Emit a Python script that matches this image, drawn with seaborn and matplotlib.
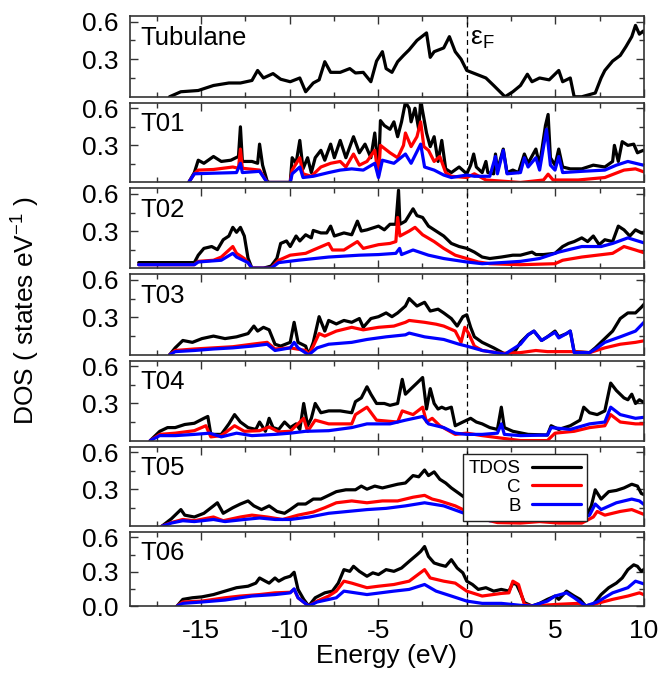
import matplotlib
matplotlib.use("Agg")
import matplotlib.pyplot as plt
import pandas as pd
import seaborn as sns
from matplotlib.ticker import MultipleLocator, FixedLocator

sns.set_style("ticks")
plt.rcParams["font.family"] = ["Liberation Sans", "DejaVu Sans"]
plt.rcParams["axes.unicode_minus"] = False
plt.rcParams["mathtext.fontset"] = "custom"
plt.rcParams["mathtext.rm"] = "Liberation Sans"
plt.rcParams["text.color"] = "black"
plt.rcParams["axes.labelcolor"] = "black"
plt.rcParams["xtick.color"] = "black"
plt.rcParams["ytick.color"] = "black"

# ---- density of states, (energy in eV, states/eV) ----
tubulane_tdos = [(-16.77, 0.0), (-16.13, 0.04), (-15.15, 0.05), (-14.29, 0.09), (-13.42, 0.11),
                 (-12.77, 0.11), (-12.12, 0.13), (-11.80, 0.21), (-11.47, 0.15), (-10.93, 0.185),
                 (-10.50, 0.14), (-9.96, 0.12), (-9.42, 0.15), (-9.09, 0.04), (-8.66, 0.11),
                 (-8.33, 0.135), (-8.01, 0.28), (-7.68, 0.195), (-7.14, 0.195), (-6.60, 0.225),
                 (-6.28, 0.19), (-5.84, 0.195), (-5.41, 0.12), (-5.09, 0.285), (-4.76, 0.36),
                 (-4.55, 0.225), (-4.22, 0.195), (-3.90, 0.28), (-3.57, 0.33), (-3.25, 0.375),
                 (-2.81, 0.45), (-2.27, 0.51), (-2.06, 0.315), (-1.84, 0.36), (-1.30, 0.39),
                 (-0.98, 0.48), (-0.65, 0.36), (-0.32, 0.30), (0.0, 0.21), (0.54, 0.18),
                 (1.08, 0.15), (1.52, 0.09), (2.16, 0.0), (2.60, 0.04), (3.03, 0.09),
                 (3.42, 0.18), (3.68, 0.12), (4.11, 0.15), (4.65, 0.135), (5.19, 0.21),
                 (5.41, 0.12), (5.84, 0.15), (6.06, 0.0), (6.49, 0.0), (7.25, 0.03),
                 (7.58, 0.15), (7.79, 0.21), (8.23, 0.285), (8.66, 0.33), (8.98, 0.40),
                 (9.31, 0.48), (9.52, 0.57), (9.74, 0.50), (9.96, 0.525), (10.1, 0.48)]

t01_tdos = [(-15.69, 0.0), (-15.37, 0.08), (-15.15, 0.18), (-14.83, 0.155), (-14.29, 0.21),
            (-13.85, 0.17), (-13.31, 0.18), (-12.88, 0.21), (-12.77, 0.45), (-12.66, 0.17),
            (-12.12, 0.17), (-11.80, 0.155), (-11.69, 0.31), (-11.52, 0.14), (-11.26, 0.01),
            (-11.15, 0.0), (-9.96, 0.0), (-9.85, 0.20), (-9.63, 0.155), (-9.42, 0.34),
            (-9.24, 0.11), (-8.98, 0.20), (-8.77, 0.08), (-8.55, 0.20), (-8.23, 0.26),
            (-8.01, 0.18), (-7.68, 0.31), (-7.47, 0.20), (-7.14, 0.34), (-6.82, 0.20),
            (-6.39, 0.37), (-6.06, 0.24), (-5.74, 0.31), (-5.41, 0.20), (-5.19, 0.40),
            (-4.98, 0.08), (-4.87, 0.50), (-4.65, 0.46), (-4.33, 0.43), (-4.11, 0.49),
            (-3.90, 0.37), (-3.68, 0.49), (-3.46, 0.65), (-3.25, 0.60), (-3.14, 0.49),
            (-2.92, 0.60), (-2.71, 0.43), (-2.60, 0.66), (-2.42, 0.52), (-2.27, 0.40),
            (-2.06, 0.29), (-1.84, 0.37), (-1.62, 0.17), (-1.41, 0.34), (-1.19, 0.11),
            (-0.87, 0.08), (-0.43, 0.125), (0.0, 0.07), (0.22, 0.14), (0.39, 0.23),
            (0.54, 0.125), (0.87, 0.08), (1.08, 0.17), (1.19, 0.08), (1.52, 0.07),
            (1.62, 0.23), (1.73, 0.10), (2.06, 0.27), (2.27, 0.08), (2.60, 0.10),
            (2.92, 0.08), (3.25, 0.23), (3.46, 0.155), (3.90, 0.27), (4.11, 0.14),
            (4.44, 0.46), (4.59, 0.55), (4.72, 0.20), (4.98, 0.14), (5.19, 0.27),
            (5.41, 0.125), (5.84, 0.11), (6.49, 0.11), (7.14, 0.14), (7.79, 0.125),
            (8.23, 0.17), (8.33, 0.30), (8.55, 0.17), (8.77, 0.33), (9.09, 0.30),
            (9.42, 0.31), (9.63, 0.24), (9.96, 0.26), (10.1, 0.25)]
t01_c = [(-15.69, 0.0), (-15.37, 0.07), (-15.15, 0.10), (-14.29, 0.105), (-13.20, 0.125),
         (-12.88, 0.115), (-12.77, 0.27), (-12.66, 0.115), (-11.69, 0.10), (-11.26, 0.0),
         (-9.96, 0.0), (-9.85, 0.10), (-9.42, 0.20), (-9.24, 0.07), (-8.77, 0.05),
         (-8.23, 0.125), (-7.68, 0.155), (-7.14, 0.17), (-6.82, 0.125), (-6.39, 0.23),
         (-6.06, 0.14), (-5.63, 0.17), (-5.19, 0.26), (-4.98, 0.05), (-4.87, 0.30),
         (-4.33, 0.24), (-3.90, 0.20), (-3.57, 0.30), (-3.46, 0.40), (-3.14, 0.29),
         (-2.81, 0.37), (-2.60, 0.49), (-2.42, 0.29), (-2.16, 0.26), (-1.84, 0.17),
         (-1.52, 0.21), (-1.19, 0.08), (-0.87, 0.05), (0.0, 0.04), (0.43, 0.07),
         (1.08, 0.02), (3.03, 0.0), (4.33, 0.02), (4.59, 0.067), (4.87, 0.02),
         (6.28, 0.02), (7.79, 0.04), (8.87, 0.10), (9.52, 0.11), (10.1, 0.08)]
t01_b = [(-15.69, 0.0), (-15.37, 0.07), (-14.29, 0.075), (-12.99, 0.08), (-12.77, 0.155),
         (-12.66, 0.08), (-11.69, 0.09), (-11.26, 0.0), (-9.96, 0.0), (-9.85, 0.07),
         (-9.42, 0.125), (-9.24, 0.04), (-8.66, 0.05), (-7.79, 0.08), (-7.14, 0.10),
         (-6.49, 0.11), (-5.84, 0.10), (-5.19, 0.155), (-4.98, 0.04), (-4.76, 0.18),
         (-4.11, 0.155), (-3.46, 0.23), (-3.14, 0.155), (-2.60, 0.31), (-2.38, 0.125),
         (-1.84, 0.10), (-1.30, 0.06), (-0.87, 0.04), (0.0, 0.06), (0.43, 0.05),
         (1.30, 0.05), (1.62, 0.21), (1.73, 0.07), (2.06, 0.26), (2.27, 0.07),
         (3.03, 0.08), (3.25, 0.20), (3.46, 0.125), (3.90, 0.20), (4.11, 0.10),
         (4.50, 0.43), (4.72, 0.14), (4.98, 0.10), (5.19, 0.21), (5.41, 0.08),
         (6.49, 0.09), (7.79, 0.10), (8.44, 0.14), (9.09, 0.17), (9.96, 0.14), (10.1, 0.14)]

t02_tdos = [(-18.51, 0.045), (-15.37, 0.045), (-15.15, 0.105), (-14.83, 0.16), (-14.39, 0.175),
            (-14.07, 0.15), (-13.74, 0.23), (-13.42, 0.26), (-13.20, 0.33), (-12.99, 0.29),
            (-12.77, 0.33), (-12.55, 0.26), (-12.34, 0.08), (-12.12, 0.0), (-11.47, 0.0),
            (-11.04, 0.017), (-10.71, 0.08), (-10.50, 0.20), (-10.17, 0.22), (-9.96, 0.175),
            (-9.63, 0.26), (-9.42, 0.22), (-9.09, 0.27), (-8.77, 0.245), (-8.66, 0.305),
            (-8.23, 0.285), (-7.90, 0.285), (-7.68, 0.34), (-7.47, 0.26), (-6.93, 0.285),
            (-6.49, 0.27), (-6.17, 0.38), (-5.95, 0.30), (-5.63, 0.31), (-4.98, 0.34),
            (-4.65, 0.31), (-4.33, 0.355), (-4.00, 0.355), (-3.85, 0.63), (-3.77, 0.355),
            (-3.46, 0.38), (-3.03, 0.48), (-2.81, 0.425), (-2.49, 0.41), (-2.16, 0.34),
            (-1.73, 0.30), (-1.30, 0.26), (-0.87, 0.20), (-0.43, 0.175), (0.0, 0.16),
            (0.43, 0.13), (0.87, 0.09), (1.30, 0.078), (1.95, 0.09), (2.60, 0.105),
            (3.03, 0.105), (3.68, 0.13), (3.90, 0.11), (4.33, 0.11), (4.98, 0.12),
            (5.41, 0.175), (5.74, 0.20), (6.06, 0.215), (6.49, 0.245), (6.82, 0.215),
            (7.14, 0.26), (7.47, 0.19), (7.79, 0.23), (8.23, 0.215), (8.55, 0.34),
            (8.87, 0.31), (9.20, 0.26), (9.52, 0.31), (9.85, 0.285), (10.1, 0.28)]
t02_c = [(-18.51, 0.028), (-15.37, 0.028), (-15.15, 0.055), (-14.29, 0.064), (-13.85, 0.09),
         (-13.20, 0.175), (-12.99, 0.12), (-12.55, 0.078), (-12.34, 0.045), (-12.12, 0.0),
         (-11.04, 0.0), (-10.61, 0.064), (-9.96, 0.105), (-9.09, 0.12), (-8.66, 0.147),
         (-7.79, 0.20), (-7.58, 0.147), (-6.93, 0.147), (-6.17, 0.215), (-5.84, 0.16),
         (-4.98, 0.19), (-4.33, 0.20), (-4.00, 0.215), (-3.90, 0.41), (-3.77, 0.26),
         (-3.25, 0.30), (-2.92, 0.33), (-2.49, 0.27), (-1.84, 0.215), (-1.30, 0.16),
         (-0.65, 0.105), (0.0, 0.078), (0.65, 0.05), (1.30, 0.036), (3.03, 0.028),
         (4.98, 0.036), (5.41, 0.064), (6.49, 0.09), (7.36, 0.105), (8.23, 0.12),
         (8.87, 0.175), (9.52, 0.147), (10.1, 0.12)]
t02_b = [(-18.51, 0.028), (-15.37, 0.028), (-15.15, 0.05), (-13.85, 0.064), (-13.20, 0.12),
         (-12.99, 0.09), (-12.34, 0.045), (-12.12, 0.0), (-11.04, 0.0), (-10.61, 0.045),
         (-9.52, 0.064), (-7.79, 0.09), (-6.06, 0.105), (-4.98, 0.11), (-4.00, 0.12),
         (-3.79, 0.16), (-3.68, 0.11), (-3.03, 0.147), (-2.16, 0.105), (-1.30, 0.078),
         (0.0, 0.05), (0.87, 0.036), (1.95, 0.045), (3.03, 0.055), (4.11, 0.078),
         (5.19, 0.13), (6.49, 0.175), (7.58, 0.175), (8.23, 0.20), (9.09, 0.245), (10.1, 0.20)]

t03_tdos = [(-16.77, 0.0), (-16.45, 0.056), (-16.02, 0.115), (-15.48, 0.10), (-14.94, 0.13),
            (-14.29, 0.15), (-13.64, 0.13), (-12.99, 0.144), (-12.34, 0.17), (-12.01, 0.23),
            (-11.80, 0.19), (-11.47, 0.22), (-11.15, 0.20), (-10.82, 0.085), (-10.50, 0.07),
            (-9.96, 0.10), (-9.74, 0.26), (-9.52, 0.10), (-9.09, 0.07), (-8.92, 0.0),
            (-8.66, 0.10), (-8.33, 0.305), (-8.01, 0.19), (-7.79, 0.275), (-7.36, 0.247),
            (-6.93, 0.275), (-6.49, 0.26), (-6.06, 0.29), (-5.84, 0.22), (-5.41, 0.29),
            (-4.98, 0.305), (-4.55, 0.335), (-4.22, 0.305), (-3.90, 0.335), (-3.46, 0.39),
            (-3.25, 0.45), (-2.81, 0.39), (-2.38, 0.42), (-2.06, 0.35), (-1.62, 0.365),
            (-1.30, 0.335), (-0.87, 0.29), (-0.54, 0.23), (-0.22, 0.305), (0.0, 0.32),
            (0.22, 0.22), (0.43, 0.144), (0.87, 0.10), (1.52, 0.056), (2.16, 0.006),
            (2.71, 0.026), (3.03, 0.10), (3.46, 0.16), (3.79, 0.19), (4.22, 0.115),
            (4.55, 0.144), (4.98, 0.19), (5.19, 0.144), (5.63, 0.17), (5.84, 0.19),
            (6.06, 0.026), (6.93, 0.018), (7.25, 0.056), (7.79, 0.13), (8.23, 0.19),
            (8.66, 0.29), (9.09, 0.335), (9.52, 0.335), (9.85, 0.38), (10.1, 0.42)]
t03_c = [(-16.77, 0.0), (-16.45, 0.035), (-15.37, 0.047), (-14.29, 0.056), (-13.20, 0.065),
         (-12.12, 0.085), (-11.26, 0.10), (-10.82, 0.047), (-9.96, 0.056), (-9.09, 0.035),
         (-8.92, 0.0), (-8.66, 0.07), (-8.33, 0.17), (-8.01, 0.15), (-7.36, 0.19),
         (-6.49, 0.22), (-5.84, 0.20), (-4.98, 0.22), (-4.11, 0.23), (-3.46, 0.26),
         (-3.25, 0.275), (-2.38, 0.26), (-1.73, 0.245), (-1.30, 0.23), (-0.65, 0.19),
         (-0.32, 0.10), (-0.11, 0.22), (0.11, 0.17), (0.43, 0.07), (0.87, 0.035),
         (1.95, 0.012), (3.03, 0.018), (3.90, 0.035), (4.55, 0.026), (5.84, 0.026),
         (6.93, 0.018), (7.79, 0.056), (8.66, 0.085), (9.52, 0.10), (10.1, 0.115)]
t03_b = [(-16.77, 0.0), (-16.45, 0.026), (-15.37, 0.035), (-14.29, 0.047), (-13.20, 0.056),
         (-12.12, 0.07), (-11.26, 0.085), (-10.82, 0.035), (-9.96, 0.056), (-9.74, 0.10),
         (-9.52, 0.056), (-8.92, 0.0), (-8.44, 0.056), (-7.79, 0.085), (-6.49, 0.10),
         (-5.63, 0.123), (-4.55, 0.144), (-3.46, 0.16), (-3.25, 0.174), (-2.38, 0.144),
         (-1.30, 0.123), (-0.43, 0.085), (0.0, 0.07), (0.87, 0.035), (2.16, 0.006),
         (3.03, 0.085), (3.46, 0.16), (3.79, 0.19), (4.22, 0.115), (4.55, 0.144),
         (4.98, 0.18), (5.19, 0.135), (5.63, 0.17), (5.84, 0.19), (6.06, 0.018),
         (6.93, 0.018), (7.36, 0.056), (7.79, 0.10), (8.66, 0.144), (9.52, 0.19), (10.1, 0.275)]

t04_tdos = [(-17.86, 0.0), (-17.32, 0.075), (-16.88, 0.105), (-16.45, 0.105), (-15.91, 0.13),
            (-15.37, 0.14), (-14.83, 0.18), (-14.61, 0.195), (-14.44, 0.05), (-13.85, 0.05),
            (-13.42, 0.135), (-13.10, 0.21), (-12.77, 0.15), (-12.34, 0.105), (-11.90, 0.09),
            (-11.69, 0.15), (-11.36, 0.075), (-11.15, 0.18), (-10.93, 0.105), (-10.61, 0.09),
            (-10.28, 0.15), (-9.96, 0.105), (-9.63, 0.135), (-9.42, 0.09), (-9.20, 0.30),
            (-8.98, 0.12), (-8.77, 0.18), (-8.55, 0.30), (-8.23, 0.225), (-7.79, 0.24),
            (-7.14, 0.24), (-6.49, 0.225), (-6.28, 0.315), (-5.95, 0.345), (-5.63, 0.435),
            (-5.41, 0.375), (-5.09, 0.30), (-4.65, 0.30), (-4.33, 0.285), (-3.90, 0.30),
            (-3.64, 0.495), (-3.46, 0.375), (-3.14, 0.42), (-2.81, 0.465), (-2.49, 0.51),
            (-2.27, 0.255), (-2.06, 0.42), (-1.84, 0.30), (-1.62, 0.255), (-1.41, 0.27),
            (-1.19, 0.255), (-0.87, 0.27), (-0.65, 0.12), (-0.22, 0.15), (0.22, 0.18),
            (0.54, 0.15), (0.87, 0.135), (1.30, 0.105), (1.73, 0.09), (1.95, 0.27),
            (2.12, 0.105), (2.60, 0.075), (3.46, 0.05), (4.55, 0.045), (4.76, 0.12),
            (5.19, 0.09), (5.84, 0.12), (6.39, 0.165), (6.60, 0.27), (6.93, 0.225),
            (7.36, 0.21), (7.79, 0.24), (8.12, 0.465), (8.44, 0.405), (8.87, 0.345),
            (9.09, 0.33), (9.31, 0.375), (9.52, 0.30), (9.74, 0.33), (10.1, 0.30)]
t04_c = [(-17.86, 0.0), (-17.32, 0.05), (-16.45, 0.06), (-15.37, 0.08), (-14.72, 0.12),
         (-14.44, 0.03), (-13.85, 0.04), (-13.10, 0.12), (-12.55, 0.075), (-11.69, 0.08),
         (-11.15, 0.11), (-10.61, 0.07), (-9.96, 0.075), (-9.20, 0.18), (-8.98, 0.075),
         (-8.55, 0.165), (-7.79, 0.135), (-6.49, 0.135), (-6.28, 0.21), (-5.63, 0.27),
         (-5.09, 0.165), (-3.90, 0.15), (-3.64, 0.24), (-3.03, 0.21), (-2.49, 0.27),
         (-2.27, 0.15), (-1.95, 0.18), (-1.52, 0.12), (-0.65, 0.05), (0.0, 0.06),
         (0.87, 0.04), (1.95, 0.02), (3.03, 0.0), (4.55, 0.0), (4.98, 0.06),
         (6.06, 0.075), (6.93, 0.105), (7.79, 0.12), (8.12, 0.21), (8.66, 0.15),
         (9.52, 0.135), (10.1, 0.135)]
t04_b = [(-17.86, 0.0), (-17.32, 0.04), (-16.45, 0.04), (-15.37, 0.05), (-14.50, 0.06),
         (-13.85, 0.03), (-12.99, 0.06), (-12.12, 0.04), (-10.82, 0.05), (-9.96, 0.06),
         (-9.09, 0.075), (-7.79, 0.08), (-6.49, 0.105), (-5.63, 0.135), (-4.33, 0.135),
         (-3.46, 0.165), (-2.49, 0.195), (-2.16, 0.135), (-1.30, 0.105), (-0.65, 0.06),
         (0.0, 0.05), (0.87, 0.05), (1.73, 0.06), (1.95, 0.135), (2.12, 0.05),
         (3.03, 0.04), (4.55, 0.045), (4.76, 0.105), (5.84, 0.09), (6.93, 0.135),
         (7.79, 0.15), (8.12, 0.27), (8.66, 0.21), (9.52, 0.18), (10.1, 0.19)]

t05_tdos = [(-17.21, 0.0), (-16.67, 0.06), (-16.13, 0.135), (-15.91, 0.09), (-15.37, 0.075),
            (-14.83, 0.105), (-14.29, 0.165), (-14.07, 0.19), (-13.74, 0.105), (-13.20, 0.15),
            (-12.77, 0.18), (-12.34, 0.205), (-12.01, 0.165), (-11.58, 0.135), (-11.15, 0.165),
            (-10.71, 0.12), (-10.28, 0.105), (-9.96, 0.135), (-9.52, 0.18), (-9.09, 0.18),
            (-8.66, 0.22), (-8.23, 0.22), (-7.79, 0.25), (-7.36, 0.28), (-6.82, 0.295),
            (-6.28, 0.295), (-5.95, 0.325), (-5.63, 0.30), (-5.19, 0.325), (-4.76, 0.31),
            (-4.33, 0.325), (-3.90, 0.34), (-3.46, 0.35), (-3.03, 0.41), (-2.71, 0.40),
            (-2.38, 0.455), (-2.16, 0.41), (-1.84, 0.44), (-1.52, 0.38), (-1.19, 0.35),
            (-0.87, 0.31), (-0.43, 0.265), (0.0, 0.22), (0.43, 0.165), (0.87, 0.12),
            (1.30, 0.055), (2.38, 0.055), (3.03, 0.06), (3.46, 0.067), (3.90, 0.105),
            (4.22, 0.135), (4.55, 0.105), (4.98, 0.075), (5.63, 0.055), (6.28, 0.055),
            (6.71, 0.075), (7.03, 0.165), (7.25, 0.295), (7.58, 0.22), (8.01, 0.28),
            (8.44, 0.29), (8.87, 0.31), (9.31, 0.34), (9.63, 0.325), (9.85, 0.265), (10.1, 0.25)]
t05_c = [(-17.21, 0.0), (-16.67, 0.03), (-16.02, 0.055), (-15.37, 0.045), (-14.29, 0.075),
         (-13.74, 0.045), (-12.77, 0.075), (-12.12, 0.09), (-11.26, 0.075), (-10.39, 0.055),
         (-9.52, 0.09), (-8.66, 0.115), (-8.01, 0.15), (-7.36, 0.19), (-6.49, 0.205),
         (-5.63, 0.19), (-4.76, 0.205), (-3.90, 0.205), (-3.03, 0.235), (-2.38, 0.25),
         (-1.95, 0.22), (-1.52, 0.205), (-0.65, 0.165), (0.0, 0.12), (0.87, 0.06),
         (1.73, 0.03), (3.03, 0.026), (4.11, 0.038), (5.19, 0.026), (6.49, 0.026),
         (7.14, 0.075), (7.36, 0.12), (7.79, 0.09), (8.66, 0.12), (9.31, 0.135), (10.1, 0.09)]
t05_b = [(-17.21, 0.0), (-16.67, 0.026), (-16.02, 0.045), (-15.37, 0.038), (-14.29, 0.055),
         (-13.64, 0.038), (-12.55, 0.055), (-11.69, 0.067), (-10.82, 0.055), (-9.96, 0.055),
         (-8.88, 0.075), (-7.79, 0.105), (-6.71, 0.12), (-5.63, 0.135), (-4.55, 0.145),
         (-3.46, 0.165), (-2.38, 0.19), (-1.95, 0.18), (-1.30, 0.165), (-0.43, 0.12),
         (0.43, 0.075), (1.30, 0.045), (2.16, 0.055), (3.03, 0.075), (3.90, 0.09),
         (4.22, 0.105), (4.98, 0.067), (6.28, 0.055), (6.93, 0.09), (7.25, 0.18),
         (7.58, 0.135), (8.44, 0.19), (9.31, 0.22), (9.74, 0.205), (10.1, 0.165)]

t06_tdos = [(-16.34, 0.0), (-16.02, 0.058), (-15.48, 0.072), (-14.94, 0.08), (-14.29, 0.10),
            (-13.64, 0.13), (-12.99, 0.16), (-12.34, 0.173), (-11.90, 0.20), (-11.69, 0.245),
            (-11.36, 0.217), (-11.15, 0.20), (-10.82, 0.245), (-10.61, 0.217), (-10.28, 0.245),
            (-9.96, 0.26), (-9.74, 0.295), (-9.52, 0.145), (-9.20, 0.058), (-8.92, 0.0),
            (-8.55, 0.072), (-8.01, 0.115), (-7.58, 0.13), (-7.25, 0.20), (-6.93, 0.318),
            (-6.60, 0.303), (-6.39, 0.347), (-6.06, 0.303), (-5.63, 0.26), (-5.30, 0.29),
            (-4.98, 0.275), (-4.55, 0.318), (-4.11, 0.303), (-3.68, 0.332), (-3.25, 0.39),
            (-2.81, 0.448), (-2.60, 0.477), (-2.38, 0.52), (-2.16, 0.433), (-1.84, 0.376),
            (-1.52, 0.36), (-1.19, 0.347), (-0.87, 0.405), (-0.54, 0.332), (-0.22, 0.29),
            (0.0, 0.217), (0.32, 0.188), (0.65, 0.145), (1.08, 0.16), (1.52, 0.13),
            (1.95, 0.145), (2.38, 0.13), (2.60, 0.20), (2.81, 0.188), (3.03, 0.115),
            (3.25, 0.03), (3.68, 0.0), (4.11, 0.023), (4.55, 0.058), (4.98, 0.087),
            (5.19, 0.058), (5.63, 0.13), (6.06, 0.087), (6.39, 0.058), (6.71, 0.0),
            (7.14, 0.015), (7.58, 0.10), (8.01, 0.16), (8.44, 0.20), (8.77, 0.245),
            (9.09, 0.318), (9.42, 0.36), (9.63, 0.347), (9.85, 0.303), (10.1, 0.332)]
t06_c = [(-16.34, 0.0), (-16.02, 0.035), (-14.94, 0.043), (-13.64, 0.072), (-12.77, 0.087),
         (-11.69, 0.10), (-10.82, 0.115), (-9.96, 0.12), (-9.74, 0.145), (-9.52, 0.072),
         (-8.92, 0.0), (-8.44, 0.043), (-7.79, 0.087), (-7.36, 0.13), (-6.93, 0.217),
         (-6.49, 0.20), (-5.63, 0.16), (-4.98, 0.173), (-4.11, 0.188), (-3.25, 0.217),
         (-2.38, 0.318), (-2.06, 0.245), (-1.30, 0.217), (-0.65, 0.20), (0.0, 0.13),
         (0.87, 0.087), (1.95, 0.11), (2.38, 0.115), (2.60, 0.217), (2.92, 0.188),
         (3.25, 0.015), (3.68, 0.0), (5.19, 0.015), (6.28, 0.023), (6.71, 0.0),
         (7.36, 0.023), (8.23, 0.058), (9.09, 0.087), (9.74, 0.115), (10.1, 0.092)]
t06_b = [(-16.34, 0.0), (-16.02, 0.023), (-14.94, 0.035), (-13.64, 0.052), (-12.12, 0.087),
         (-10.82, 0.10), (-9.96, 0.115), (-9.74, 0.15), (-9.52, 0.072), (-8.92, 0.0),
         (-8.44, 0.035), (-7.36, 0.072), (-6.93, 0.13), (-5.63, 0.10), (-4.11, 0.13),
         (-3.25, 0.145), (-2.38, 0.188), (-1.73, 0.13), (-0.87, 0.087), (0.0, 0.043),
         (0.87, 0.023), (1.95, 0.023), (3.03, 0.006), (3.68, 0.0), (4.55, 0.043),
         (4.98, 0.087), (5.63, 0.115), (6.06, 0.072), (6.71, 0.0), (7.36, 0.035),
         (8.23, 0.115), (9.09, 0.16), (9.52, 0.217), (10.1, 0.188)]

panel_names = ["Tubulane", "T01", "T02", "T03", "T04", "T05", "T06"]
species = ["TDOS", "C", "B"]
species_colors = {"TDOS": "#000000", "C": "#ff0000", "B": "#0000ff"}
panel_series = [
    {"TDOS": tubulane_tdos},
    {"TDOS": t01_tdos, "C": t01_c, "B": t01_b},
    {"TDOS": t02_tdos, "C": t02_c, "B": t02_b},
    {"TDOS": t03_tdos, "C": t03_c, "B": t03_b},
    {"TDOS": t04_tdos, "C": t04_c, "B": t04_b},
    {"TDOS": t05_tdos, "C": t05_c, "B": t05_b},
    {"TDOS": t06_tdos, "C": t06_c, "B": t06_b},
]
x_major = [-15, -10, -5, 0, 5, 10]

W, H = 659, 673
fig = plt.figure(figsize=(W / 100, H / 100), dpi=100)
gs = fig.add_gridspec(7, 1, left=130 / W, right=644 / W, top=1 - 16 / H, bottom=1 - 606 / H,
                      hspace=0.075, height_ratios=[81, 80, 80, 81, 80, 80, 74])

FS = 19
axes = []
for i, name in enumerate(panel_names):
    ax = fig.add_subplot(gs[i])
    axes.append(ax)
    for sp in species:
        if sp not in panel_series[i]:
            continue
        df = pd.DataFrame(panel_series[i][sp], columns=["energy", "dos"])
        sns.lineplot(data=df, x="energy", y="dos", ax=ax, color=species_colors[sp],
                     lw=2.3, estimator=None, sort=False, label=sp, legend=False)
    ax.axvline(0, color="black", lw=0.9, ls=(0, (4, 3)), zorder=1)
    ax.set_xlim(-19, 10)
    ax.set_ylim(0, 0.645)
    ax.xaxis.set_major_locator(FixedLocator(x_major))
    ax.xaxis.set_minor_locator(MultipleLocator(2.5))
    if i == len(panel_names) - 1:
        ax.set_yticks([0.0, 0.3, 0.6])
        ax.set_yticklabels(["0.0", "0.3", "0.6"])
    else:
        ax.set_yticks([0.3, 0.6])
        ax.set_yticklabels(["0.3", "0.6"])
    ax.yaxis.set_minor_locator(FixedLocator([0.15, 0.45]))
    ax.tick_params(which="both", direction="in", top=True, right=True, width=1.0,
                   color="#333333", labelcolor="black")
    ax.tick_params(which="major", length=6)
    ax.tick_params(which="minor", length=3.5)
    ax.tick_params(axis="y", labelsize=FS, pad=8)
    ax.tick_params(axis="x", labelsize=FS, pad=9)
    for s in ax.spines.values():
        s.set_linewidth(1.2)
        s.set_color("#333333")
    ax.set_ylabel("")
    ax.set_xlabel("")
    ax.text(0.02, 0.88, name, transform=ax.transAxes, fontsize=18.5, ha="left", va="top",
            color="black")
    if i < len(panel_names) - 1:
        ax.tick_params(axis="x", labelbottom=False)

axes[0].text(0.2, 0.46, "ε$_\\mathrm{F}$", fontsize=FS, ha="left", va="center", color="black")

axes[-1].set_xlabel("Energy (eV)", fontsize=FS, labelpad=1, color="black")

# legend inside the T05 panel: label first, line sample on the right
leg_ax = axes[5]
handles, labels = leg_ax.get_legend_handles_labels()
leg = leg_ax.legend(handles, labels, loc="upper left", bbox_to_anchor=(0.647, 0.904),
                    borderaxespad=0, markerfirst=False, frameon=True, fancybox=False,
                    edgecolor="#222222", framealpha=1, fontsize=13.5, handlelength=2.65,
                    handletextpad=0.6, labelspacing=0.08, borderpad=0.32)
leg.get_frame().set_linewidth(1.0)
for t in leg.get_texts():
    t.set_color("black")

fig.text(25 / W, 1 - 310 / H, "DOS ( states eV$^{-1}$ )", rotation=90, fontsize=FS,
         ha="center", va="center", color="black")

fig.savefig("out.png", dpi=100)
